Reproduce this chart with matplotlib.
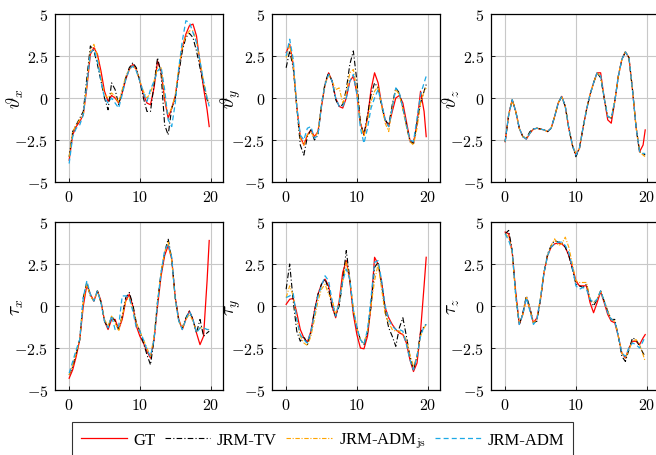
import numpy as np
import matplotlib
matplotlib.use("Agg")
import matplotlib.pyplot as plt

plt.rcParams['mathtext.fontset'] = 'cm'
plt.rcParams['font.family'] = ['Liberation Serif', 'DejaVu Serif']

# time grid (s)
t = np.append(np.arange(0, 20, 0.5), 19.8)

# theta_x
gt_theta_x = [-3.7, -2.2, -1.7, -1.4, -1.0, 0.6, 2.6, 3.0, 2.6, 1.6, 0.4, -0.2, 0.15, 0.0, -0.3, 0.3,
              1.1, 1.7, 2.0, 1.7, 1.0, 0.2, -0.3, -0.4, 0.6, 2.2, 1.6, -0.1, -1.2, -0.6, 0.1, 1.6,
              3.0, 3.8, 4.3, 4.4, 3.7, 2.1, 0.6, -0.7, -1.7]
tv_theta_x = [-3.5, -2.0, -1.6, -1.2, -0.8, 1.2, 3.1, 2.8, 2.0, 1.0, 0.0, -0.7, 0.9, 0.5, -0.4, 0.4,
              1.2, 1.8, 2.1, 1.8, 1.0, 0.0, -0.8, -0.8, 0.8, 2.4, 1.4, -1.6, -2.2, -0.6, 0.0, 1.5,
              2.8, 3.6, 3.85, 3.6, 2.8, 1.8, 0.8, -0.1, -0.3]
js_theta_x = [-3.5, -2.0, -1.6, -1.3, -1.0, 0.8, 2.8, 3.2, 2.5, 1.2, 0.2, 0.0, 0.3, 0.1, -0.3, 0.5,
              1.3, 1.7, 1.9, 1.7, 1.0, 0.4, 0.0, 0.3, 1.0, 1.8, 1.8, 0.0, -1.0, -0.6, 0.2, 1.8,
              3.0, 3.7, 4.0, 4.0, 3.4, 2.2, 1.0, 0.0, -0.3]
adm_theta_x = [-3.9, -2.3, -1.8, -1.6, -1.0, 0.8, 2.7, 2.9, 2.2, 1.0, 0.0, -0.3, 0.0, -0.3, -0.6, 0.2,
               1.1, 1.7, 1.9, 1.6, 1.0, 0.3, -0.2, 0.5, 1.0, 1.6, 1.85, 0.5, -1.3, -1.7, -0.3, 1.8,
               3.4, 4.6, 4.5, 3.9, 3.3, 2.2, 1.0, 0.0, -0.5]

# theta_y
gt_theta_y = [2.7, 3.2, 2.0, -0.5, -2.3, -2.8, -2.2, -1.9, -2.3, -2.0, -0.5, 0.8, 1.5, 1.0, 0.0, -0.5,
              -0.6, 0.0, 1.0, 1.3, 0.3, -1.5, -2.2, -1.2, 0.5, 1.5, 0.9, -0.4, -1.3, -1.7, -0.8, 0.0,
              0.15, -0.3, -1.4, -2.5, -2.7, -1.5, 0.4, -0.8, -2.3]
tv_theta_y = [1.8, 2.8, 1.8, -0.5, -2.8, -3.4, -2.3, -1.9, -2.5, -2.2, -0.4, 0.9, 1.5, 1.0, -0.1, -0.5,
              -0.4, 0.5, 2.0, 2.8, 1.0, -1.5, -2.2, -1.0, 0.2, 0.9, 0.6, -0.5, -1.3, -1.6, -0.4, 0.6,
              0.3, -0.6, -1.6, -2.6, -2.7, -1.5, -0.3, 0.4, 0.8]
js_theta_y = [2.4, 3.2, 2.0, -0.5, -2.4, -2.8, -2.2, -2.0, -2.4, -2.0, -0.4, 0.8, 1.4, 1.0, 0.5, 0.6,
              -0.3, 0.3, 1.5, 1.7, 0.5, -1.5, -2.3, -1.3, -0.2, 0.4, 0.7, -0.5, -1.5, -2.0, -0.5, 0.5,
              0.2, -0.7, -1.7, -2.6, -2.8, -1.8, -0.3, 0.4, 0.6]
adm_theta_y = [2.5, 3.5, 2.3, -0.5, -2.2, -2.5, -1.8, -1.7, -2.4, -2.2, -0.4, 0.8, 1.4, 1.0, 0.0, -0.5,
               -0.5, 0.0, 1.0, 1.4, 0.2, -1.8, -2.7, -1.8, -0.6, 0.0, 0.5, -0.3, -1.3, -1.7, -0.6, 0.6,
               0.3, -0.6, -1.6, -2.5, -2.6, -1.2, 0.2, 0.9, 1.3]

# theta_z
gt_theta_z = [-2.6, -1.0, -0.1, -0.8, -1.8, -2.3, -2.45, -2.1, -1.85, -1.8, -1.85, -1.9, -2.0, -1.8, -1.1, -0.3,
              0.1, -0.5, -1.8, -2.8, -3.4, -3.0, -1.8, -0.7, 0.2, 0.9, 1.5, 1.5, 0.0, -1.3, -1.5, -0.2,
              1.3, 2.3, 2.75, 2.4, 0.5, -1.7, -3.2, -2.8, -1.9]
tv_theta_z = [-2.6, -1.0, -0.1, -0.8, -1.8, -2.3, -2.4, -2.0, -1.85, -1.8, -1.85, -1.9, -2.0, -1.8, -1.1, -0.3,
              0.1, -0.5, -1.8, -2.8, -3.5, -3.0, -1.8, -0.7, 0.2, 0.9, 1.5, 1.2, 0.0, -1.1, -1.2, -0.2,
              1.3, 2.3, 2.75, 2.4, 0.5, -1.7, -3.2, -3.3, -3.4]
js_theta_z = [-2.6, -1.0, -0.1, -0.8, -1.8, -2.3, -2.4, -2.1, -1.85, -1.8, -1.85, -1.9, -2.0, -1.8, -1.1, -0.3,
              0.1, -0.5, -1.8, -2.8, -3.3, -3.0, -1.8, -0.7, 0.2, 0.9, 1.5, 1.3, 0.0, -1.1, -1.2, -0.2,
              1.3, 2.3, 2.75, 2.4, 0.5, -1.7, -3.2, -3.4, -3.5]
adm_theta_z = [-2.6, -1.0, -0.1, -0.8, -1.8, -2.3, -2.45, -2.1, -1.85, -1.8, -1.85, -1.9, -2.0, -1.8, -1.1, -0.3,
               0.1, -0.5, -1.8, -2.8, -3.4, -3.0, -1.8, -0.7, 0.2, 0.9, 1.5, 1.3, 0.0, -1.1, -1.2, -0.2,
               1.3, 2.3, 2.75, 2.4, 0.5, -1.7, -3.2, -3.3, -3.3]

# tau_x
gt_tau_x = [-4.3, -3.8, -3.0, -2.0, 0.0, 1.25, 0.7, 0.3, 0.9, 0.3, -0.9, -1.4, -0.8, -0.8, -1.4, -0.8,
            0.3, 0.7, 0.0, -1.2, -1.8, -2.2, -2.7, -3.1, -2.0, 0.0, 1.8, 3.0, 3.6, 2.8, 0.5, -0.8,
            -1.4, -0.8, -0.3, -0.8, -1.6, -2.3, -1.8, 1.5, 3.9]
tv_tau_x = [-4.1, -3.6, -2.8, -2.0, 0.5, 1.4, 0.6, 0.3, 0.9, 0.2, -0.9, -1.3, -0.6, -0.9, -1.4, -0.6,
            0.5, 0.8, 0.1, -1.0, -1.5, -2.2, -2.9, -3.5, -2.0, 0.3, 2.0, 3.2, 4.0, 2.8, 0.5, -0.9,
            -1.3, -0.7, -0.3, -0.8, -1.6, -0.8, -1.8, -1.6, -1.5]
js_tau_x = [-4.1, -3.5, -2.8, -2.0, 0.3, 1.3, 0.6, 0.3, 0.9, 0.2, -0.8, -1.2, -0.6, -1.0, -1.5, -0.6,
            0.3, 0.5, -0.2, -1.0, -1.5, -2.0, -2.5, -3.0, -1.8, 0.3, 2.0, 3.2, 3.8, 2.7, 0.4, -0.9,
            -1.3, -0.8, -0.5, -0.9, -1.5, -1.3, -1.3, -1.4, -1.4]
adm_tau_x = [-4.0, -3.3, -2.6, -2.0, 0.5, 1.5, 0.7, 0.3, 0.9, 0.2, -0.9, -1.3, -0.6, -1.4, -1.2, 0.6,
             0.6, 0.5, -0.3, -1.3, -1.5, -2.0, -2.6, -3.0, -2.0, 0.2, 2.0, 3.3, 3.7, 2.9, 0.4, -0.9,
             -1.4, -0.8, -0.3, -0.8, -1.6, -1.3, -1.3, -1.4, -1.4]

# tau_y
gt_tau_y = [0.1, 0.4, 0.45, -0.4, -1.4, -1.9, -2.15, -1.5, -0.3, 0.7, 1.3, 1.6, 1.2, 0.0, -0.7, 0.3,
            2.0, 2.7, 1.5, -0.5, -1.7, -2.5, -2.55, -1.8, 0.0, 2.9, 2.5, 1.4, -0.1, -0.7, -1.1, -1.4,
            -1.6, -1.7, -2.2, -3.2, -3.9, -3.4, -1.5, 1.2, 2.9]
tv_tau_y = [1.0, 2.5, 0.3, -1.5, -2.1, -1.8, -2.3, -1.6, -0.3, 0.7, 1.3, 1.6, 1.0, -0.1, -0.6, 0.0,
            1.5, 3.3, 1.6, -0.3, -1.3, -2.0, -2.3, -1.6, 0.0, 2.3, 2.6, 1.3, -0.3, -1.3, -1.8, -2.4,
            -1.3, -0.7, -1.8, -3.0, -3.8, -3.0, -1.6, -1.2, -1.1]
js_tau_y = [0.5, 1.2, 0.6, -0.8, -1.8, -2.2, -2.35, -1.8, -0.8, 0.3, 1.0, 1.3, 0.7, 0.4, -0.5, 0.2,
            1.5, 2.6, 1.6, -0.2, -1.3, -2.0, -2.2, -1.5, 0.0, 1.5, 2.5, 1.0, -0.5, -1.0, -1.4, -1.5,
            -1.5, -1.7, -2.0, -2.9, -3.6, -3.0, -1.8, -1.3, -1.1]
adm_tau_y = [0.5, 0.6, 0.75, -0.8, -1.7, -2.0, -2.2, -1.5, -0.5, 0.6, 1.2, 1.8, 1.5, 0.3, -0.6, 0.2,
             1.5, 2.2, 1.6, -0.2, -1.3, -2.0, -2.3, -1.4, 0.5, 2.6, 2.7, 1.5, 0.0, -0.8, -1.2, -1.4,
             -1.4, -1.5, -2.3, -3.2, -3.8, -3.0, -1.8, -1.2, -1.1]

# tau_z
gt_tau_z = [4.4, 4.3, 3.2, 0.8, -1.1, -0.5, 0.5, -0.2, -1.0, -0.7, 0.4, 2.0, 3.0, 3.5, 3.7, 3.75,
            3.7, 3.5, 3.0, 2.3, 1.5, 1.2, 1.2, 1.2, 0.2, -0.4, 0.2, 0.85, 0.2, -0.5, -0.9, -1.0,
            -1.8, -2.8, -3.1, -2.5, -2.1, -2.1, -2.3, -1.9, -1.7]
tv_tau_z = [4.3, 4.5, 3.3, 0.6, -1.1, -0.4, 0.6, -0.1, -1.0, -0.9, 0.4, 2.0, 3.1, 3.6, 3.9, 3.8,
            3.8, 3.5, 3.0, 2.2, 1.3, 1.2, 1.1, 1.3, 0.4, 0.0, 0.4, 0.9, 0.3, -0.3, -0.8, -0.8,
            -1.8, -3.0, -3.3, -2.6, -1.9, -2.0, -2.4, -2.8, -3.0]
js_tau_z = [4.3, 4.1, 3.2, 0.5, -1.0, -0.5, 0.5, -0.2, -1.0, -0.8, 0.5, 2.0, 3.0, 3.6, 4.0, 3.6,
            3.7, 4.1, 3.5, 2.5, 1.5, 1.4, 1.4, 1.4, 0.4, 0.2, 0.4, 0.9, 0.3, -0.3, -0.8, -0.9,
            -1.8, -2.8, -3.1, -2.6, -2.1, -2.0, -2.3, -2.9, -3.3]
adm_tau_z = [4.3, 3.9, 3.3, 0.6, -1.1, -0.5, 0.5, -0.3, -1.1, -0.8, 0.5, 2.0, 3.0, 3.5, 3.7, 3.8,
             3.8, 3.6, 3.2, 2.3, 1.2, 1.0, 1.1, 1.0, 0.4, 0.2, 0.4, 0.9, 0.3, -0.4, -0.8, -0.9,
             -1.8, -2.8, -3.0, -2.5, -2.2, -2.3, -2.5, -2.1, -1.8]

panels = [
    (r'$\vartheta_x$', gt_theta_x, tv_theta_x, js_theta_x, adm_theta_x),
    (r'$\vartheta_y$', gt_theta_y, tv_theta_y, js_theta_y, adm_theta_y),
    (r'$\vartheta_z$', gt_theta_z, tv_theta_z, js_theta_z, adm_theta_z),
    (r'$\tau_x$', gt_tau_x, tv_tau_x, js_tau_x, adm_tau_x),
    (r'$\tau_y$', gt_tau_y, tv_tau_y, js_tau_y, adm_tau_y),
    (r'$\tau_z$', gt_tau_z, tv_tau_z, js_tau_z, adm_tau_z),
]

yticks = [-5, -2.5, 0, 2.5, 5]
ytick_labels = [r'$-5$', r'$-2.5$', r'$0$', r'$2.5$', r'$5$']
xticks = [0, 10, 20]
xtick_labels = [r'$0$', r'$10$', r'$20$']

fig = plt.figure(figsize=(6.56, 4.56), dpi=100)

lefts = [55, 272, 491]
tops = [15, 223]
W, H = 168, 168

lines = None
for i, (lab, gt, tv, js, adm) in enumerate(panels):
    r, c = divmod(i, 3)
    ax = fig.add_axes([lefts[c] / 656, 1 - (tops[r] + H) / 456, W / 656, H / 456])
    l1, = ax.plot(t, gt, color='red', lw=0.9)
    l2, = ax.plot(t, tv, color='black', lw=0.8, dashes=(5, 2, 1, 2))
    l3, = ax.plot(t, js, color='#ffa500', lw=0.8, dashes=(4, 1.5, 1, 1.5))
    l4, = ax.plot(t, adm, color='#1ca9e6', lw=0.9, dashes=(4, 2.5))
    lines = [l1, l2, l3, l4]
    ax.set_xlim(-2.0, 21.75)
    ax.set_ylim(-5, 5)
    ax.set_yticks(yticks)
    ax.set_yticklabels(ytick_labels)
    ax.set_xticks(xticks)
    ax.set_xticklabels(xtick_labels)
    ax.grid(True, color='#c8c8c8', lw=0.8)
    ax.set_axisbelow(True)
    ax.tick_params(direction='in', length=3, width=0.6, labelsize=11.5, pad=5)
    for s in ax.spines.values():
        s.set_linewidth(0.9)
    ax.set_ylabel(lab, fontsize=14)
    ax.yaxis.set_label_coords(-0.17, 0.5)

leg = fig.legend(lines, ['GT', 'JRM-TV', r'JRM-ADM$_{\mathrm{js}}$', 'JRM-ADM'],
                 loc='upper center', bbox_to_anchor=(322.5 / 656, 1 - 415 / 456),
                 ncol=4, fontsize=12, frameon=True, fancybox=False, edgecolor='black',
                 handlelength=2.75, columnspacing=0.55, handletextpad=0.4, borderpad=0.5)
leg.get_frame().set_linewidth(0.8)

fig.savefig('out.png', dpi=100)
